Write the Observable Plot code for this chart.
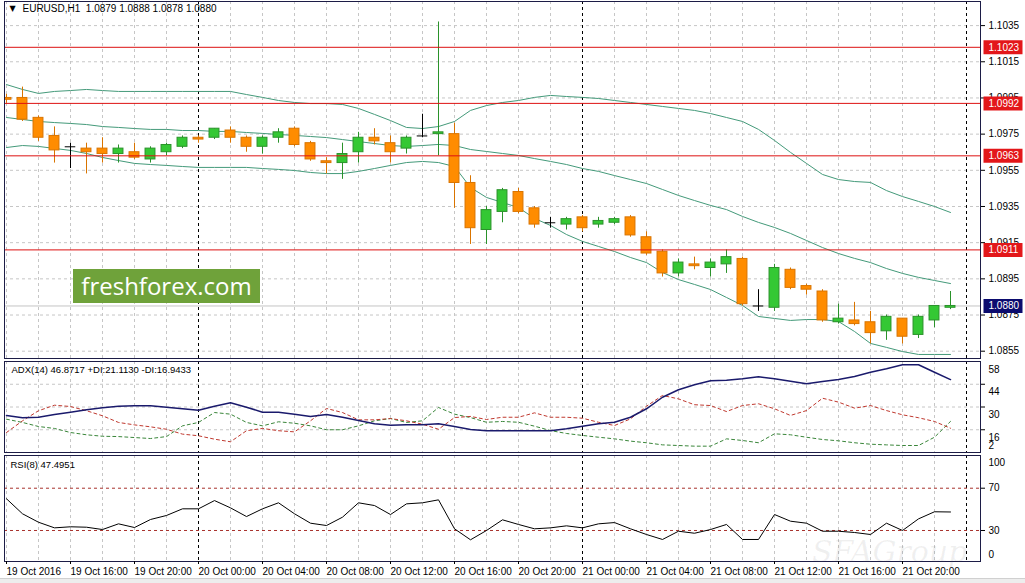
<!DOCTYPE html>
<html><head><meta charset="utf-8">
<script src="https://cdn.jsdelivr.net/npm/d3@7"></script>
<script src="https://cdn.jsdelivr.net/npm/@observablehq/plot@0.6"></script>
<style>
body{margin:0;background:#fff;}
#wrap{position:relative;width:1025px;height:583px;overflow:hidden;background:#fff;}
#wrap svg{position:absolute;left:0;top:0;}
#logo{position:absolute;left:73px;top:269px;width:187px;height:34px;background:#6fa23a;color:#fff;font-family:'Open Sans',sans-serif;font-size:24px;line-height:33px;text-align:center;}
#wm{position:absolute;left:812px;top:534px;font-family:'DejaVu Serif',serif;font-style:italic;font-size:30px;color:rgba(90,90,90,0.09);pointer-events:none;}
#bot{position:absolute;left:0;top:578px;width:1025px;height:5px;background:#ededed;border-top:1px solid #d0d0d0;}
</style></head>
<body><div id="wrap"></div>
<script>
// ---- data ----
const open = [1.0995,1.0995,1.0984,1.0974,1.0968,1.0967,1.0967,1.0964,1.0965,1.0961,
 1.0965,1.0968,1.0973,1.0973,1.0977,1.0973,1.0968,1.0973,1.0978,1.0970,
 1.0960,1.0959,1.0965,1.0973,1.0970,1.0967,1.0974,1.0975,1.0975,1.0948,
 1.0922,1.0932,1.0943,1.0934,1.0926,1.0925,1.0929,1.0925,1.0926,1.0929,
 1.0918,1.0910,1.0898,1.0903,1.0901,1.0903,1.0906,1.0880,1.0879,1.0900,
 1.0891,1.0888,1.0871,1.0872,1.0871,1.0866,1.0873,1.0864,1.0872,1.0879];
const high = [1.0997,1.1001,1.0985,1.0979,1.0970,1.0970,1.0973,1.0969,1.0970,1.0968,
 1.0970,1.0974,1.0974,1.0978,1.0979,1.0974,1.0974,1.0978,1.0979,1.0971,
 1.0962,1.0970,1.0976,1.0978,1.0974,1.0974,1.0986,1.1037,1.0981,1.0952,
 1.0935,1.0945,1.0945,1.0935,1.0929,1.0929,1.0930,1.0929,1.0929,1.0930,
 1.0921,1.0911,1.0906,1.0907,1.0906,1.0911,1.0907,1.0889,1.0903,1.0901,
 1.0892,1.0889,1.0881,1.0882,1.0877,1.0875,1.0873,1.0875,1.0880,1.0888];
const low = [1.0992,1.0982,1.0971,1.0959,1.0956,1.0953,1.0959,1.0959,1.0961,1.0959,
 1.0963,1.0967,1.0970,1.0972,1.0970,1.0965,1.0964,1.0970,1.0968,1.0960,
 1.0953,1.0950,1.0959,1.0969,1.0959,1.0964,1.0973,1.0963,1.0934,1.0914,
 1.0914,1.0926,1.0931,1.0923,1.0923,1.0922,1.0921,1.0923,1.0925,1.0918,
 1.0908,1.0896,1.0896,1.0900,1.0896,1.0898,1.0880,1.0877,1.0877,1.0889,
 1.0886,1.0871,1.0870,1.0869,1.0859,1.0861,1.0859,1.0862,1.0868,1.0878];
const close = [1.0994,1.0983,1.0973,1.0966,1.0968,1.0965,1.0964,1.0967,1.0962,1.0967,
 1.0969,1.0973,1.0972,1.0978,1.0973,1.0968,1.0973,1.0976,1.0969,1.0961,
 1.0959,1.0964,1.0973,1.0971,1.0965,1.0973,1.0974,1.0976,1.0948,1.0923,
 1.0933,1.0944,1.0932,1.0925,1.0926,1.0928,1.0923,1.0927,1.0928,1.0919,
 1.0909,1.0898,1.0904,1.0902,1.0904,1.0907,1.0881,1.0880,1.0901,1.0890,
 1.0889,1.0872,1.0873,1.0870,1.0865,1.0874,1.0863,1.0874,1.0880,1.0880];

const bbUpper = [1.10024,1.09997,1.09975,1.09986,1.09991,1.09997,1.09991,1.09986,1.09986,1.09986,
 1.09986,1.09986,1.09986,1.09986,1.09986,1.09969,1.09953,1.09936,1.09925,1.09919,
 1.09919,1.09914,1.09892,1.09859,1.09825,1.09787,1.09781,1.09792,1.0982,1.09881,
 1.09908,1.09925,1.09936,1.09953,1.09964,1.09958,1.09953,1.09947,1.09936,1.09925,
 1.09914,1.09903,1.09892,1.09881,1.09864,1.09842,1.0982,1.09776,1.09715,1.09649,
 1.09588,1.09527,1.09499,1.09488,1.09483,1.09438,1.09405,1.09378,1.0935,1.09317];
const bbMiddle = [1.09842,1.09831,1.0982,1.09814,1.09809,1.09803,1.09792,1.09787,1.09781,1.09776,
 1.09776,1.0977,1.0977,1.09765,1.09765,1.09759,1.09754,1.09748,1.09743,1.09737,
 1.09731,1.0972,1.09709,1.09698,1.09687,1.09682,1.09687,1.09693,1.09687,1.09665,
 1.09654,1.09643,1.09632,1.09615,1.09599,1.09582,1.0956,1.09544,1.09521,1.09499,
 1.09477,1.09444,1.09411,1.09383,1.09356,1.09333,1.09295,1.09262,1.09234,1.09201,
 1.09162,1.09123,1.0909,1.09063,1.0904,1.09007,1.0898,1.08958,1.08941,1.08924];
const bbLower = [1.09676,1.09687,1.09682,1.09671,1.0966,1.09643,1.09621,1.09604,1.09588,1.09582,
 1.09577,1.09571,1.09566,1.09566,1.09566,1.09566,1.0956,1.09555,1.09549,1.09538,
 1.09532,1.09532,1.09544,1.0956,1.09577,1.09593,1.09599,1.09593,1.09571,1.09455,
 1.094,1.09372,1.09344,1.09284,1.09245,1.09195,1.09157,1.09129,1.09101,1.09068,
 1.0904,1.08985,1.08946,1.08919,1.08891,1.08847,1.08803,1.08742,1.08731,1.0872,
 1.08725,1.08725,1.08714,1.08659,1.08593,1.08571,1.08548,1.08532,1.08532,1.08532];

const adx = [24.8,23.4,23.7,25.4,26.8,28.3,29.5,30.5,30.7,30.7,
 29.9,28.9,28.0,30.5,32.6,29.9,26.8,26.8,25.6,24.2,
 25.4,23.7,21.7,19.7,18.8,19.1,19.1,19.7,18.0,16.2,
 15.4,15.4,15.4,15.4,15.4,16.6,18.2,19.7,20.6,23.7,
 28.9,36.0,40.6,43.7,46.1,46.5,47.4,48.6,47.4,45.9,
 44.3,45.7,46.9,48.8,51.4,53.5,56.0,56.0,51.4,46.87];
const plusDI = [22.5,20.5,18.0,16.8,14.3,12.9,12.0,11.8,11.2,10.6,
 11.8,18.4,20.5,26.6,25.6,20.5,18.4,20.9,20.0,18.4,
 16.0,16.0,18.4,21.5,22.9,20.5,21.5,29.7,25.6,23.5,
 20.6,21.1,20.6,18.2,15.5,13.7,12.5,11.4,10.4,9.0,
 8.0,6.7,6.3,5.9,5.9,10.4,9.4,8.0,13.5,12.9,
 11.4,10.0,9.2,8.0,7.1,6.7,6.3,6.3,11.4,21.11];
const minusDI = [14.3,21.5,27.7,31.1,30.3,27.7,24.6,20.5,19.0,17.8,
 16.3,13.3,12.3,10.2,8.6,15.4,16.8,15.4,14.7,21.5,
 29.1,26.6,22.1,22.1,22.9,21.5,19.4,16.3,23.5,24.2,
 22.3,23.7,23.7,26.4,23.7,23.7,23.1,20.6,18.6,22.7,
 30.5,37.1,35.0,31.4,30.9,27.2,30.9,32.0,28.9,24.8,
 27.8,35.4,33.0,29.3,30.9,27.8,25.2,23.4,21.1,16.94];
const rsi = [60.0,45.8,37.8,32.5,33.5,33.1,30.9,36.3,32.8,40.4,
 44.2,50.5,50.5,58.3,51.4,43.2,50.5,56.2,45.8,36.9,
 34.7,42.6,56.2,53.6,45.1,55.2,56.2,59.0,31.6,21.2,
 30.0,40.1,35.7,31.6,32.5,34.4,32.5,36.3,37.5,31.6,
 26.2,21.5,29.3,27.4,30.9,35.7,21.5,21.5,45.1,38.8,
 36.9,29.3,29.3,28.1,26.2,36.9,30.0,41.0,47.7,47.5];

const priceTicks = [1.1035,1.1015,1.0995,1.0975,1.0955,1.0935,1.0915,1.0895,1.0875,1.0855];
const levelLines = [1.1023,1.0992,1.0963,1.0911];
const adxTicks = [58,44,30,16];
const adxMin = [2];
const rsiLevels = [70,30];
const rsiEnds = [100,0];
const separatorIdx = [12,36,60];
const gridIdx = d3.range(0, 61, 2);
const xTickIdx = [0,4,8,12,16,20,24,28,32,36,40,44,48,52,56];
const xTickLabels = ["19 Oct 2016","19 Oct 16:00","19 Oct 20:00","20 Oct 00:00","20 Oct 04:00",
 "20 Oct 08:00","20 Oct 12:00","20 Oct 16:00","20 Oct 20:00","21 Oct 00:00","21 Oct 04:00",
 "21 Oct 08:00","21 Oct 12:00","21 Oct 16:00","21 Oct 20:00"];
const headerMain = "EURUSD,H1  1.0879 1.0888 1.0878 1.0880";
const headerADX = "ADX(14) 46.8717 +DI:21.1130 -DI:16.9433";
const headerRSI = "RSI(8) 47.4951";

// ---- table ----
const rows = open.map((o, i) => ({i, o, h: high[i], l: low[i], c: close[i],
  up: bbUpper[i], mid: bbMiddle[i], lo: bbLower[i],
  adx: adx[i], pdi: plusDI[i], mdi: minusDI[i], rsi: rsi[i]}));
const ups = rows.filter(d => d.c > d.o);
const downs = rows.filter(d => d.c < d.o);
const dojis = rows.filter(d => d.c === d.o);
const lastPrice = [close[close.length - 1]];

// ---- styling ----
const W = 1025, H = 583;
const GRID = "#c6c6c6", FRAME = "#1c1c46", BB = "#449a7a";
const UP_FILL = "#34c834", UP_LINE = "#2a922a", DN_FILL = "#ff8c00", DN_LINE = "#d97400";
const STYLE = {fontFamily: "'Liberation Sans', Arial, sans-serif", fontSize: "10px", background: "transparent", overflow: "visible"};
const X = {domain: [0, 59], range: [6, 950], axis: null};
const hw = 0.31;
const boxSymbol = {draw(ctx) { ctx.moveTo(-19.5, -7); ctx.lineTo(19.5, -7); ctx.lineTo(19.5, 7); ctx.lineTo(-19.5, 7); ctx.closePath(); }};
const fmt4 = d3.format(".4f");

const vGrid = () => Plot.ruleX(gridIdx, {x: d => d, stroke: GRID, strokeDasharray: "3,3"});
const seps = () => Plot.ruleX(separatorIdx, {x: d => d, stroke: "#000", strokeDasharray: "3,3"});

// ---- main price pane ----
const main = Plot.plot({
  width: W, height: H, marginTop: 1, marginBottom: H - 358, marginLeft: 4, marginRight: 45,
  style: STYLE,
  x: X,
  y: {domain: [1.0855, 1.1035], range: [350.7, 25.1], axis: null},
  marks: [
    Plot.ruleY(priceTicks, {y: d => d, stroke: GRID, strokeDasharray: "3,3"}),
    vGrid(),
    seps(),
    Plot.ruleY(lastPrice, {y: d => d, stroke: "#c4c4c4"}),
    Plot.line(rows, {x: "i", y: "up", stroke: BB, strokeWidth: 1, clip: true}),
    Plot.line(rows, {x: "i", y: "mid", stroke: BB, strokeWidth: 1, clip: true}),
    Plot.line(rows, {x: "i", y: "lo", stroke: BB, strokeWidth: 1, clip: true}),
    Plot.ruleX(ups, {x: "i", y1: "l", y2: "h", stroke: UP_LINE, clip: true}),
    Plot.ruleX(downs, {x: "i", y1: "l", y2: "h", stroke: DN_LINE, clip: true}),
    Plot.ruleX(dojis, {x: "i", y1: "l", y2: "h", stroke: "#000", clip: true}),
    Plot.rect(ups, {x1: d => d.i - hw, x2: d => d.i + hw, y1: "o", y2: "c", fill: UP_FILL, stroke: UP_LINE, clip: true}),
    Plot.rect(downs, {x1: d => d.i - hw, x2: d => d.i + hw, y1: "o", y2: "c", fill: DN_FILL, stroke: DN_LINE, clip: true}),
    Plot.ruleY(dojis, {y: "o", x1: d => d.i - 0.33, x2: d => d.i + 0.33, stroke: "#000", clip: true}),
    Plot.ruleY(levelLines, {y: d => d, stroke: "#dd1111"}),
    Plot.frame({stroke: FRAME}),
    Plot.axisY({anchor: "right", ticks: priceTicks, tickFormat: fmt4, tickSize: 4, tickPadding: 4, label: null, fill: "#000"}),
    Plot.dot(levelLines, {y: d => d, frameAnchor: "right", dx: 22.5, symbol: boxSymbol, fill: "#e3171a"}),
    Plot.text(levelLines, {y: d => d, text: fmt4, frameAnchor: "right", dx: 8, textAnchor: "start", fill: "#fff"}),
    Plot.dot(lastPrice, {y: d => d, frameAnchor: "right", dx: 22.5, symbol: boxSymbol, fill: "#0b0b6e"}),
    Plot.text(lastPrice, {y: d => d, text: fmt4, frameAnchor: "right", dx: 8, textAnchor: "start", fill: "#fff"}),
    Plot.text(["\u25BC"], {frameAnchor: "top-left", dx: 8, dy: 7, lineAnchor: "middle", textAnchor: "middle", fontSize: 8, fontFamily: "DejaVu Sans"}),
    Plot.text([headerMain], {frameAnchor: "top-left", dx: 18, dy: 7, lineAnchor: "middle", textAnchor: "start", fontSize: 10, fill: "#000"})
  ]
});

// ---- ADX pane ----
const adxPlot = Plot.plot({
  width: W, height: H, marginTop: 361, marginBottom: H - 452, marginLeft: 4, marginRight: 45,
  style: STYLE,
  x: X,
  y: {domain: [2, 58], range: [452, 361], axis: null},
  marks: [
    Plot.ruleY([44, 30, 16], {y: d => d, stroke: GRID, strokeDasharray: "3,3"}),
    vGrid(),
    seps(),
    Plot.line(rows, {x: "i", y: "pdi", stroke: "#3a863a", strokeWidth: 1, strokeDasharray: "3,3"}),
    Plot.line(rows, {x: "i", y: "mdi", stroke: "#c0392f", strokeWidth: 1, strokeDasharray: "3,3"}),
    Plot.line(rows, {x: "i", y: "adx", stroke: "#1a1a6c", strokeWidth: 1.5}),
    Plot.frame({stroke: FRAME}),
    Plot.axisY({anchor: "right", ticks: [44, 30, 16], tickSize: 4, tickFormat: () => "", label: null}),
    Plot.text(adxTicks, {y: d => d, text: d => String(d), frameAnchor: "right", dx: 8, dy: 8, textAnchor: "start", fill: "#000"}),
    Plot.text(adxMin, {y: d => d, text: d => String(d), frameAnchor: "right", dx: 8, dy: -7, textAnchor: "start", fill: "#000"}),
    Plot.text([headerADX], {frameAnchor: "top-left", dx: 7, dy: 8, lineAnchor: "middle", textAnchor: "start", fontSize: 9.5, fill: "#000"})
  ]
});

// ---- RSI pane ----
const rsiPlot = Plot.plot({
  width: W, height: H, marginTop: 455, marginBottom: H - 561, marginLeft: 4, marginRight: 45,
  style: STYLE,
  x: X,
  y: {domain: [0, 100], range: [561.7, 456], axis: null},
  marks: [
    vGrid(),
    seps(),
    Plot.ruleY(rsiLevels, {y: d => d, stroke: "#a8322d", strokeDasharray: "3,3"}),
    Plot.line(rows, {x: "i", y: "rsi", stroke: "#000", strokeWidth: 1}),
    Plot.frame({stroke: FRAME}),
    Plot.axisY({anchor: "right", ticks: rsiLevels, tickSize: 4, tickPadding: 4, label: null, fill: "#000"}),
    Plot.text([rsiEnds[0]], {y: d => d, text: d => String(d), frameAnchor: "right", dx: 8, dy: 6, textAnchor: "start", fill: "#000"}),
    Plot.text([rsiEnds[1]], {y: d => d, text: d => String(d), frameAnchor: "right", dx: 8, dy: -7, textAnchor: "start", fill: "#000"}),
    Plot.axisX({anchor: "bottom", ticks: xTickIdx, tickFormat: d => xTickLabels[xTickIdx.indexOf(d)], tickSize: 3, tickPadding: 3, textAnchor: "start", label: null, fill: "#000"}),
    Plot.text([headerRSI], {frameAnchor: "top-left", dx: 6, dy: 9, lineAnchor: "middle", textAnchor: "start", fontSize: 9.5, fill: "#000"})
  ]
});

const wrap = document.getElementById("wrap");
wrap.appendChild(main);
wrap.appendChild(adxPlot);
wrap.appendChild(rsiPlot);
const logo = document.createElement("div"); logo.id = "logo"; logo.textContent = "freshforex.com"; wrap.appendChild(logo);
const wm = document.createElement("div"); wm.id = "wm"; wm.textContent = "SFAGroup"; wrap.appendChild(wm);
const bot = document.createElement("div"); bot.id = "bot"; wrap.appendChild(bot);
</script></body></html>
